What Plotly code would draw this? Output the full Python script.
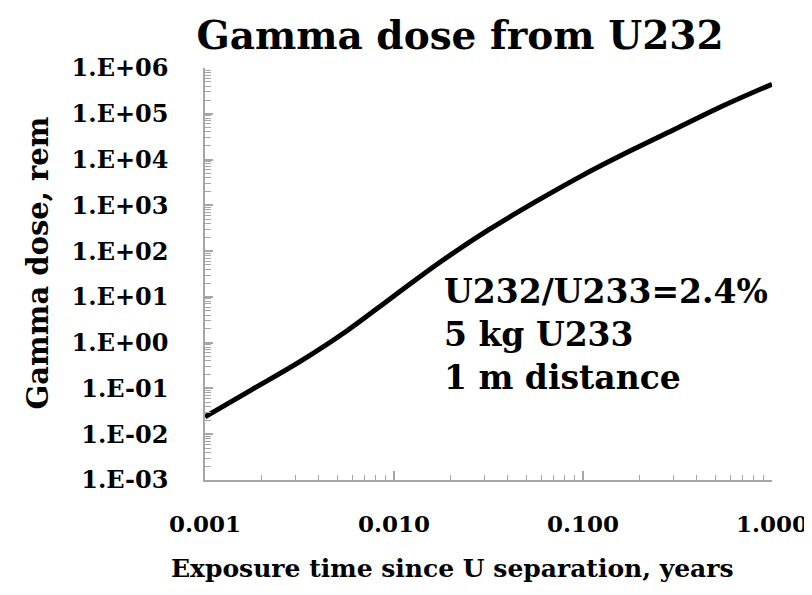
import plotly.graph_objects as go

# Data
time_years = [0.001, 0.00178, 0.00316, 0.00562, 0.01, 0.0178, 0.0316,
              0.0562, 0.1, 0.178, 0.316, 0.562, 1.0]
dose_rem = [0.0240, 0.0955, 0.380, 1.80, 10.5, 60.0, 290,
            1200, 4570, 15500, 49000, 155000, 443000]

y_tickvals = [1e-3, 1e-2, 1e-1, 1e0, 1e1, 1e2, 1e3, 1e4, 1e5, 1e6]
y_ticktext = ["1.E-03", "1.E-02", "1.E-01", "1.E+00", "1.E+01",
              "1.E+02", "1.E+03", "1.E+04", "1.E+05", "1.E+06"]
x_tickvals = [0.001, 0.01, 0.1, 1.0]
x_ticktext = ["0.001", "0.010", "0.100", "1.000"]

title_text = "Gamma dose from U232"
x_title = "Exposure time since U separation, years"
y_title = "Gamma dose, rem"
note_lines = ["U232/U233=2.4%", "5 kg U233", "1 m distance"]

# log-axis minor tick positions (2..9 within each decade)
x_minor = [m * 10.0 ** d for d in range(-3, 0) for m in range(2, 10)]
y_minor = [m * 10.0 ** d for d in range(-3, 6) for m in range(2, 10)]

FONT = "DejaVu Serif"
AX = "#a6a6a6"

fig = go.Figure(go.Scatter(
    x=time_years, y=dose_rem, mode="lines",
    line=dict(color="black", width=5, shape="spline", smoothing=1.0),
    hoverinfo="skip",
))

L, R, T, B = 197, 43, 60, 123
W, H = 812, 595
PW, PH = W - L - R, H - T - B

fig.update_layout(
    width=W, height=H,
    margin=dict(l=L, r=R, t=T, b=B),
    plot_bgcolor="white", paper_bgcolor="white",
    showlegend=False,
    title=dict(text=title_text, x=452 / W, xref="container", xanchor="center",
               y=1 - 27 / H, yref="container", yanchor="middle",
               font=dict(family=FONT, size=39, color="black", weight="bold")),
)

fig.update_xaxes(
    type="log", range=[-3, 0],
    showline=True, linecolor=AX, linewidth=1.5,
    showgrid=False, zeroline=False,
    tickmode="array", tickvals=x_tickvals, ticktext=x_ticktext,
    ticks="inside", ticklen=9, tickcolor=AX, tickwidth=1.5,
    tickfont=dict(family=FONT, size=23, color="black", weight="bold"),
    ticklabelstandoff=23,
    minor=dict(tickmode="array", tickvals=x_minor, ticks="inside", ticklen=5,
               tickcolor=AX, tickwidth=1, showgrid=False),
)
fig.update_yaxes(
    type="log", range=[-3, 6],
    showline=True, linecolor=AX, linewidth=1.5,
    showgrid=False, zeroline=False,
    tickmode="array", tickvals=y_tickvals, ticktext=y_ticktext,
    ticks="inside", ticklen=8, tickcolor=AX, tickwidth=1.5,
    tickfont=dict(family=FONT, size=24, color="black", weight="bold"),
    ticklabelstandoff=30,
    minor=dict(tickmode="array", tickvals=y_minor, ticks="inside", ticklen=6,
               tickcolor=AX, tickwidth=1, showgrid=False),
)

fig.add_annotation(text=y_title, xref="paper", yref="paper",
                   x=-(L - 29) / PW, y=((H - B) - 255) / PH,
                   xanchor="center", yanchor="middle",
                   textangle=-90, showarrow=False,
                   font=dict(family=FONT, size=29, color="black", weight="bold"))
fig.add_annotation(text=x_title, xref="paper", yref="paper",
                   x=(447 - L) / PW, y=-(560 - (H - B)) / PH,
                   xanchor="center", yanchor="middle", showarrow=False,
                   font=dict(family=FONT, size=25, color="black", weight="bold"))
fig.add_annotation(text="<br>".join(note_lines), xref="paper", yref="paper",
                   x=(436 - L) / PW, y=((H - B) - 262) / PH,
                   xanchor="left", yanchor="top", align="left", showarrow=False,
                   font=dict(family=FONT, size=33, color="black", weight="bold"))

fig.write_html("out.html")
